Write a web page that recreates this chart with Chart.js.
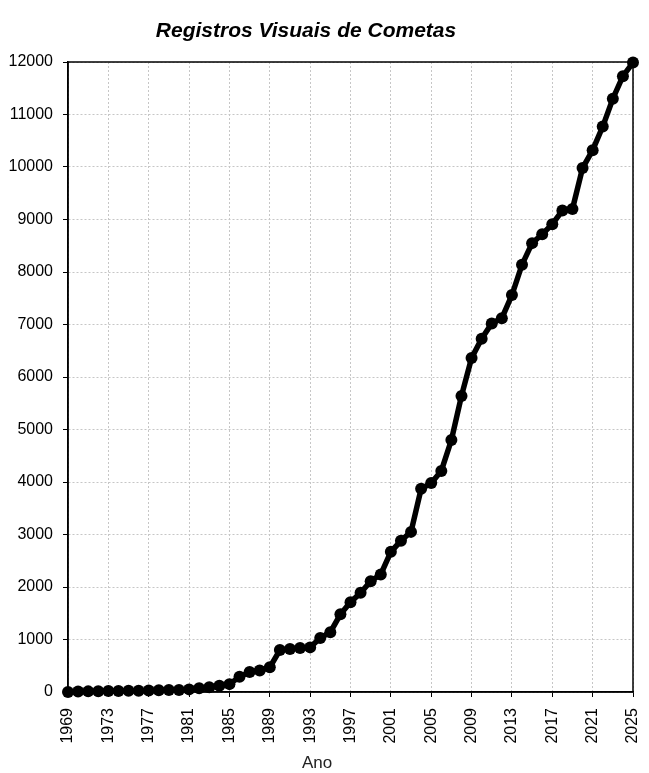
<!DOCTYPE html>
<html>
<head>
<meta charset="utf-8">
<script src="https://cdn.jsdelivr.net/npm/chart.js@4/dist/chart.umd.min.js"></script>
<style>
  body { margin: 0; background: #fff; }
  #wrap { width: 649px; height: 773px; position: relative; }
</style>
</head>
<body>
<div id="wrap"><canvas id="chart"></canvas></div>
<script>
var years = [1969, 1970, 1971, 1972, 1973, 1974, 1975, 1976, 1977, 1978,
             1979, 1980, 1981, 1982, 1983, 1984, 1985, 1986, 1987, 1988,
             1989, 1990, 1991, 1992, 1993, 1994, 1995, 1996, 1997, 1998,
             1999, 2000, 2001, 2002, 2003, 2004, 2005, 2006, 2007, 2008,
             2009, 2010, 2011, 2012, 2013, 2014, 2015, 2016, 2017, 2018,
             2019, 2020, 2021, 2022, 2023, 2024, 2025];
var registros = [0, 10, 12, 15, 18, 20, 22, 25, 28, 32,
                 36, 40, 50, 70, 90, 120, 150, 290, 380, 410,
                 470, 800, 820, 840, 850, 1030, 1140, 1480, 1710, 1890,
                 2110, 2240, 2670, 2880, 3050, 3870, 3980, 4210, 4800, 5640,
                 6360, 6730, 7020, 7120, 7560, 8140, 8550, 8720, 8910, 9170,
                 9200, 9980, 10320, 10770, 11300, 11730, 11990];
var titulo = 'Registros Visuais de Cometas';
var eixoX = 'Ano';

var pontos = years.map(function(a, i) { return { x: a, y: registros[i] }; });

// title, axis caption and plot frame drawn by hand to match the original placement
var extras = {
  id: 'extras',
  afterDraw: function(chart) {
    var ctx = chart.ctx, a = chart.chartArea;
    ctx.save();
    ctx.strokeStyle = '#000';
    ctx.lineWidth = 1.5;
    ctx.strokeRect(a.left, a.top, a.right - a.left, a.bottom - a.top);
    ctx.fillStyle = '#000';
    ctx.textAlign = 'center';
    ctx.textBaseline = 'middle';
    ctx.font = 'italic bold 21px "Liberation Sans", Arial, sans-serif';
    ctx.fillText(titulo, 306, 31);
    ctx.fillStyle = '#222';
    ctx.font = '17px "Liberation Sans", Arial, sans-serif';
    ctx.fillText(eixoX, 317, 763);
    ctx.restore();
  }
};

var ctx = document.getElementById('chart').getContext('2d');
window.myLine = new Chart(ctx, {
  type: 'line',
  data: {
    datasets: [{
      data: pontos,
      borderColor: '#000',
      backgroundColor: '#000',
      borderWidth: 5.5,
      pointRadius: 6,
      pointHoverRadius: 6,
      pointBackgroundColor: '#000',
      pointBorderWidth: 0,
      tension: 0,
      clip: false
    }]
  },
  options: {
    responsive: true,
    maintainAspectRatio: false,
    animation: false,
    layout: { padding: { top: 62, right: 16, left: 0, bottom: 0 } },
    plugins: { legend: { display: false }, tooltip: { enabled: false } },
    scales: {
      x: {
        type: 'linear',
        min: 1969,
        max: 2025,
        afterFit: function(s) { s.height = 81; s.paddingLeft = 0; s.paddingRight = 0; },
        border: { display: true, color: '#000', width: 1.5, dash: [2, 2] },
        grid: { color: '#c6c6c6', tickColor: '#000', tickLength: 5, tickBorderDash: [] },
        ticks: {
          stepSize: 4,
          autoSkip: false,
          minRotation: 90,
          maxRotation: 90,
          padding: 11,
          color: '#000',
          font: { family: '"Liberation Sans", Arial, sans-serif', size: 16 },
          callback: function(v) { return String(v); }
        }
      },
      y: {
        min: 0,
        max: 12000,
        afterFit: function(s) { s.width = 68; s.paddingTop = 0; s.paddingBottom = 0; },
        border: { display: true, color: '#000', width: 1.5, dash: [2, 2] },
        grid: { color: '#c6c6c6', tickColor: '#000', tickLength: 5, tickBorderDash: [] },
        ticks: {
          stepSize: 1000,
          padding: 10,
          color: '#000',
          font: { family: '"Liberation Sans", Arial, sans-serif', size: 16 },
          callback: function(v) { return String(v); }
        }
      }
    }
  },
  plugins: [extras]
});
</script>
</body>
</html>
